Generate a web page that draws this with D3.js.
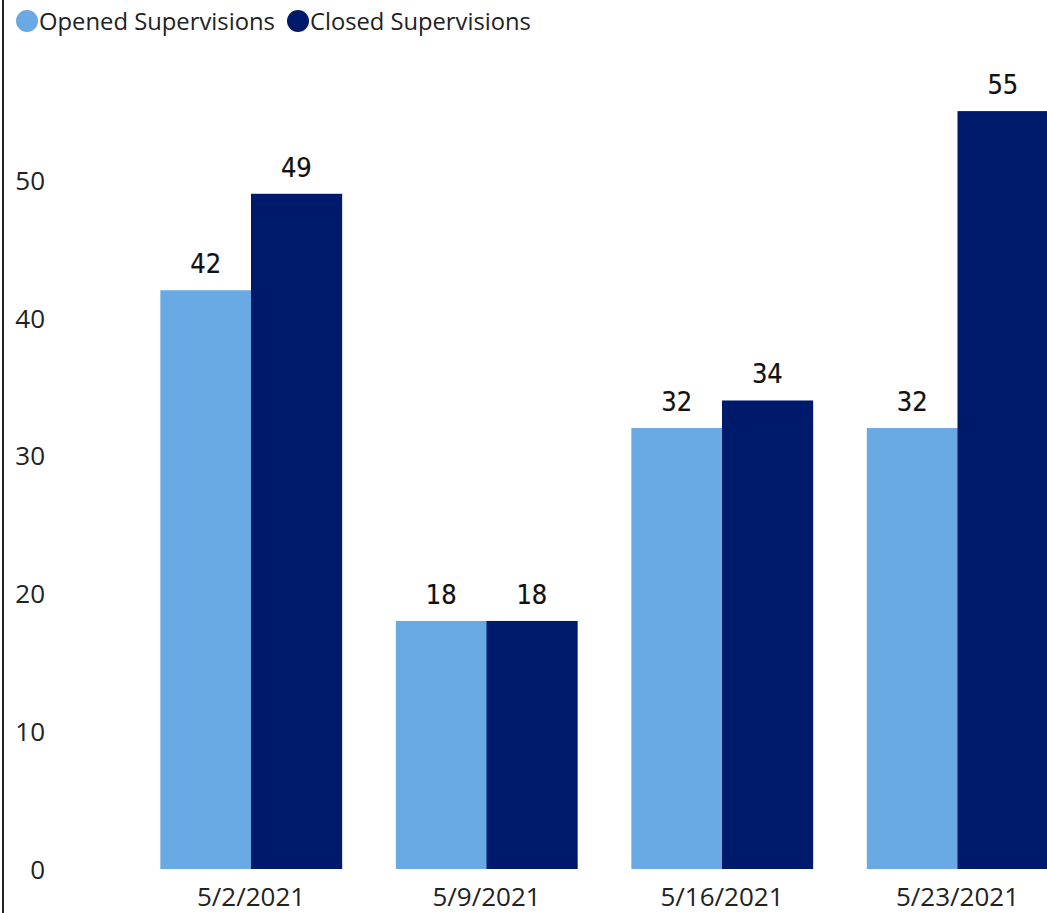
<!DOCTYPE html>
<html><head><meta charset="utf-8">
<script src="https://cdn.jsdelivr.net/npm/d3@7"></script>
<style>body{margin:0;background:#fff;overflow:hidden}</style>
</head><body>
<script>
const categories = ["5/2/2021","5/9/2021","5/16/2021","5/23/2021"];
const seriesNames = ["Opened Supervisions","Closed Supervisions"];
const opened = [42,18,32,32];
const closed = [49,18,34,55];
const yTicks = [0,10,20,30,40,50];
const colors = ["#6aaae4","#001a6b"];

const W=1047,H=913;
const svg=d3.select("body").append("svg").attr("width",W).attr("height",H);
svg.append("rect").attr("width",W).attr("height",H).attr("fill","#fff");
svg.append("line").attr("x1",3).attr("x2",3).attr("y1",0).attr("y2",H).attr("stroke","#222").attr("stroke-width",2);

const x=d3.scaleBand().domain(categories).range([133.25,1075.25]).paddingInner(0.23).paddingOuter(0.115);
const x1=d3.scaleBand().domain(seriesNames).range([0,x.bandwidth()]);
const y=d3.scaleLinear().domain([0,50]).range([869,180]);

const data=categories.map((c,i)=>({c,vals:[opened[i],closed[i]]}));
const g=svg.append("g");
const grp=g.selectAll("g.grp").data(data).enter().append("g").attr("transform",d=>`translate(${x(d.c)},0)`);
grp.selectAll("rect").data(d=>d.vals.map((v,j)=>({v,j}))).enter().append("rect")
  .attr("x",d=>x1(seriesNames[d.j])).attr("width",x1.bandwidth()+0.5)
  .attr("y",d=>y(d.v)).attr("height",d=>y(0)-y(d.v)).attr("fill",d=>colors[d.j]);
grp.selectAll("text").data(d=>d.vals.map((v,j)=>({v,j}))).enter().append("text")
  .attr("x",d=>x1(seriesNames[d.j])+x1.bandwidth()/2).attr("y",d=>y(d.v)-17)
  .attr("text-anchor","middle").attr("font-family","DejaVu Sans Condensed").attr("font-size",27)
  .attr("fill","#111").attr("stroke","#111").attr("stroke-width",0.2).text(d=>d.v);

// y axis
const ya=svg.append("g").attr("transform","translate(45,0)")
  .call(d3.axisLeft(y).tickValues(yTicks).tickSize(0).tickPadding(0));
ya.select(".domain").remove();
ya.selectAll("text").attr("font-family","Open Sans").attr("font-size",26).attr("fill","#222").attr("dy","0.36em");

// x axis
const xa=svg.append("g").attr("transform","translate(0,869)")
  .call(d3.axisBottom(x).tickSize(0).tickPadding(0));
xa.select(".domain").remove();
xa.selectAll("text").attr("font-family","Open Sans").attr("font-size",26).attr("fill","#222").attr("dy",null).attr("y",37);

// legend
const leg=svg.append("g");
const targetW=[236,221];
let lx=27;
seriesNames.forEach((n,i)=>{
  leg.append("circle").attr("cx",lx).attr("cy",21).attr("r",11).attr("fill",colors[i]);
  const t=leg.append("text").attr("x",lx+12).attr("y",30).attr("font-family","Open Sans").attr("font-size",21).attr("fill","#222").text(n);
  const len=t.node().getComputedTextLength();
  t.attr("font-size",21*targetW[i]/len);
  lx+=12+targetW[i]+23;
});
</script>
</body></html>
